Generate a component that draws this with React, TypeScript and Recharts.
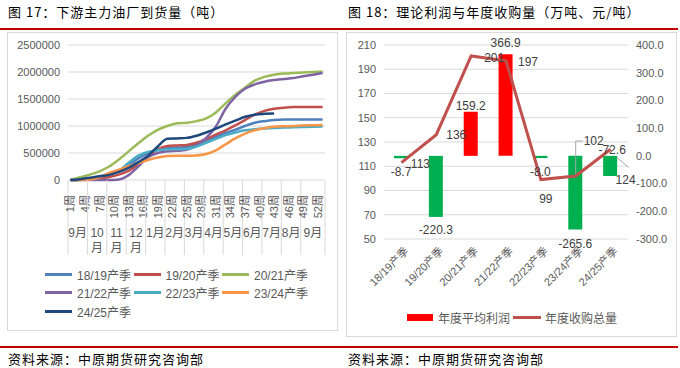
import React from "react";
import {
  LineChart,
  Line,
  XAxis,
  YAxis,
  CartesianGrid,
  Legend,
  ComposedChart,
  Bar,
  Cell,
  LabelList,
} from "recharts";

const NUM_FONT = '"Liberation Sans", "Noto Sans CJK SC", sans-serif';
const CJK_FONT = '"Noto Sans CJK SC", "Liberation Sans", sans-serif';

// ---------- Figure 17: arrivals at main downstream crushers (tons) ----------
const weeks = [1, 3, 5, 7, 9, 11, 13, 15, 17, 19, 21, 23, 25, 27, 29, 31, 33, 35, 37, 39, 41, 43, 45, 47, 49, 51, 53];
const s1819 = [0, 5000, 20000, 50000, 100000, 170000, 280000, 400000, 500000, 560000, 590000, 600000, 610000, 660000, 730000, 800000, 870000, 930000, 1000000, 1060000, 1090000, 1110000, 1120000, 1120000, 1120000, 1120000, 1120000];
const s1920 = [0, 5000, 15000, 30000, 55000, 100000, 170000, 290000, 430000, 570000, 630000, 640000, 650000, 690000, 760000, 840000, 920000, 1010000, 1110000, 1210000, 1280000, 1320000, 1340000, 1350000, 1350000, 1350000, 1350000];
const s2021 = [0, 50000, 100000, 160000, 250000, 380000, 530000, 680000, 820000, 930000, 1000000, 1050000, 1060000, 1090000, 1140000, 1250000, 1420000, 1580000, 1710000, 1840000, 1910000, 1950000, 1970000, 1980000, 1990000, 2000000, 2010000];
const s2122 = [0, 0, 0, 0, 0, 10000, 90000, 250000, 420000, 500000, 530000, 540000, 560000, 640000, 780000, 990000, 1320000, 1540000, 1690000, 1770000, 1820000, 1850000, 1870000, 1890000, 1920000, 1950000, 1980000];
const s2223 = [0, 10000, 30000, 60000, 110000, 170000, 320000, 450000, 520000, 550000, 565000, 570000, 575000, 620000, 690000, 760000, 830000, 880000, 920000, 940000, 955000, 965000, 970000, 975000, 980000, 985000, 990000];
const s2324 = [0, 0, 10000, 50000, 130000, 190000, 255000, 310000, 370000, 415000, 445000, 450000, 450000, 455000, 480000, 550000, 660000, 770000, 860000, 920000, 960000, 985000, 995000, 1000000, 1010000, 1015000, 1020000];
const s2425 = [0, 15000, 40000, 70000, 95000, 150000, 225000, 330000, 450000, 620000, 765000, 770000, 780000, 820000, 880000, 950000, 1030000, 1100000, 1170000, 1210000, 1225000, 1230000];

const seasonNames17 = ["18/19产季", "19/20产季", "20/21产季", "21/22产季", "22/23产季", "23/24产季", "24/25产季"];
const seasonColors17 = ["#4F81BD", "#C0504D", "#9BBB59", "#8064A2", "#4BACC6", "#F79646", "#1F497D"];
const seriesList17 = [s1819, s1920, s2021, s2122, s2223, s2324, s2425];

const weekTicks = [1, 4, 7, 10, 13, 16, 19, 22, 25, 28, 31, 34, 37, 40, 43, 46, 49, 52];
const monthNames = ["9月", "10月", "11月", "12月", "1月", "2月", "3月", "4月", "5月", "6月", "7月", "8月", "9月"];
const monthStartWeeks = [1, 5, 9, 13, 17, 21, 25, 29, 33, 37, 41, 45, 49];
const monthEndWeeks = [4, 8, 12, 16, 20, 24, 28, 32, 36, 40, 44, 48, 53];
const yTicks17 = [0, 500000, 1000000, 1500000, 2000000, 2500000];

const monthCenters = monthStartWeeks.map((s, i) => (s + monthEndWeeks[i]) / 2);
const monthBounds = [...monthStartWeeks.map((s) => s - 0.5), monthEndWeeks[monthEndWeeks.length - 1] + 0.5];
const weekAxisTicks = [...weekTicks, ...monthBounds].sort((a, b) => a - b);
const weekDomain: [number, number] = [0.5, 53.5];

const data17 = weeks.map((w, i) => {
  const row: any = { w };
  seriesList17.forEach((s, k) => {
    row["s" + k] = s[i] === undefined ? null : s[i];
  });
  return row;
});

// ---------- Figure 18: theoretical profit & annual purchases ----------
const seasons18 = ["18/19产季", "19/20产季", "20/21产季", "21/22产季", "22/23产季", "23/24产季", "24/25产季"];
const profit18 = [-8.7, -220.3, 159.2, 366.9, -8.0, -265.6, -72.6];
const volume18 = [113, 136, 201, 197, 99, 102, 124];
const leftTicks18 = [50, 70, 90, 110, 130, 150, 170, 190, 210];
const rightTicks18 = [-300, -200, -100, 0, 100, 200, 300, 400];

const data18 = seasons18.map((s, i) => ({ season: s, profit: profit18[i], volume: volume18[i] }));

// label placement (style only)
const volLabelOffsets = [
  [19, 1],
  [20, 0],
  [23, 2],
  [22, 1],
  [5, 19],
  [18, -35],
  [15, 31],
];
const volLeaders = [null, null, null, null, null, "up", "down"];
const profitLabelGap = [14, 13, 6, 11, 14, 15, 6];

const AXIS_COLOR = "#595959";
const GRID_COLOR = "#D9D9D9";

const WeekTick = (p: any) => {
  const v = p.payload.value;
  if (monthBounds.includes(v)) {
    return <line x1={p.x} x2={p.x} y1={p.y} y2={p.y + 75} stroke={GRID_COLOR} strokeWidth={1} />;
  }
  const y = p.y + 15;
  return (
    <text
      x={p.x}
      y={y}
      transform={`rotate(-90 ${p.x} ${y})`}
      textAnchor="end"
      dominantBaseline="central"
      fontSize={11}
      fill={AXIS_COLOR}
      fontFamily={NUM_FONT}
    >
      {`${v}周`}
    </text>
  );
};

const MonthTick = (p: any) => {
  const idx = monthCenters.indexOf(p.payload.value);
  const name = idx >= 0 ? monthNames[idx] : "";
  const y = p.y + 8;
  if (name.length > 2) {
    return (
      <text x={p.x} y={y} textAnchor="middle" fontSize={12} fill={AXIS_COLOR} fontFamily={NUM_FONT}>
        <tspan x={p.x} dy="0.35em">{name.slice(0, -1)}</tspan>
        <tspan x={p.x} dy="15">{name.slice(-1)}</tspan>
      </text>
    );
  }
  return (
    <text x={p.x} y={y} dy="0.35em" textAnchor="middle" fontSize={12} fill={AXIS_COLOR} fontFamily={NUM_FONT}>
      {name}
    </text>
  );
};

const Legend17 = (props: any) => {
  const payload = props.payload || [];
  return (
    <div style={{ display: "grid", gridTemplateColumns: "88.5px 88.5px 88.5px" }}>
      {payload.map((e: any) => (
        <div key={e.value} style={{ display: "flex", alignItems: "center", height: 18.5 }}>
          <span style={{ display: "inline-block", width: 27, height: 3, background: e.color, marginRight: 5 }} />
          <span style={{ fontSize: 12, color: AXIS_COLOR, fontFamily: NUM_FONT, whiteSpace: "nowrap" }}>{e.value}</span>
        </div>
      ))}
    </div>
  );
};

const SeasonTick = (p: any) => {
  const x = p.x + 5;
  const y = p.y + 2;
  return (
    <text
      x={x}
      y={y}
      transform={`rotate(-45 ${x} ${y})`}
      textAnchor="end"
      dominantBaseline="central"
      fontSize={11}
      fill={AXIS_COLOR}
      fontFamily={NUM_FONT}
    >
      {p.payload.value}
    </text>
  );
};

const ProfitLabel = (p: any) => {
  const { x, y, width, height, value, index } = p;
  const top = Math.min(y, y + height);
  const bottom = Math.max(y, y + height);
  let cx = x + width / 2;
  const gap = profitLabelGap[index] ?? 8;
  let ty: number;
  if (index === profit18.length - 1) {
    ty = top - gap;
    cx = cx + 2;
  } else if (value >= 0) ty = top - gap;
  else ty = bottom + gap;
  return (
    <text x={cx} y={ty} textAnchor="middle" dominantBaseline="central" fontSize={12} fill="#404040" fontFamily={NUM_FONT}>
      {Number(value).toFixed(1)}
    </text>
  );
};

const VolumeLabel = (p: any) => {
  const { x, y, value, index } = p;
  const [dx, dy] = volLabelOffsets[index] || [0, 0];
  const leader = volLeaders[index];
  return (
    <g>
      {leader === "up" && (
        <path d={`M${x},${y - 2} V${y + dy} H${x + 7}`} stroke="#A6A6A6" strokeWidth={1} fill="none" />
      )}
      {leader === "down" && (
        <path d={`M${x + 6},${y + 8} L${x + 18},${y + 18}`} stroke="#A6A6A6" strokeWidth={1} fill="none" />
      )}
      <text x={x + dx} y={y + dy} textAnchor="middle" dominantBaseline="central" fontSize={12} fill="#404040" fontFamily={NUM_FONT}>
        {value}
      </text>
    </g>
  );
};

const Legend18 = (props: any) => {
  const payload = props.payload || [];
  return (
    <div style={{ display: "flex", alignItems: "center", height: 16 }}>
      {payload.map((e: any) => (
        <div key={e.value} style={{ display: "flex", alignItems: "center", marginRight: 3 }}>
          {e.type === "rect" ? (
            <span style={{ display: "inline-block", width: 26, height: 7, background: "#FF0000", marginRight: 5 }} />
          ) : (
            <span style={{ display: "inline-block", width: 28, height: 3, background: e.color, marginRight: 4 }} />
          )}
          <span style={{ fontSize: 12, color: AXIS_COLOR, fontFamily: CJK_FONT, whiteSpace: "nowrap" }}>{e.value}</span>
        </div>
      ))}
    </div>
  );
};

const titleStyle: React.CSSProperties = {
  position: "absolute",
  fontSize: 13,
  lineHeight: "16px",
  color: "#000",
  fontFamily: CJK_FONT,
  letterSpacing: 1,
  whiteSpace: "nowrap",
};

export default function App() {
  return (
    <div style={{ position: "absolute", left: 0, top: 0, width: 680, height: 368, background: "#fff", overflow: "hidden" }}>
      <div style={{ ...titleStyle, left: 8, top: 4 }}>图 17：下游主力油厂到货量（吨）</div>
      <div style={{ ...titleStyle, left: 348, top: 4 }}>图 18：理论利润与年度收购量（万吨、元/吨）</div>
      <div style={{ position: "absolute", left: 0, top: 28, width: 678, height: 2, background: "#C00000" }} />

      <div style={{ position: "absolute", left: 7, top: 32, width: 331, height: 299, border: `1px solid ${GRID_COLOR}`, boxSizing: "border-box" }} />
      <div style={{ position: "absolute", left: 346, top: 32, width: 331, height: 305, border: `1px solid ${GRID_COLOR}`, boxSizing: "border-box" }} />

      <div style={{ position: "absolute", left: 8, top: 32 }}>
        <LineChart width={330} height={298} data={data17} margin={{ top: 13, right: 13, left: 0, bottom: 60 }}>
          <CartesianGrid xAxisId="b_week" horizontal vertical={false} stroke={GRID_COLOR} />
          <XAxis
            xAxisId="b_week"
            dataKey="w"
            type="number"
            domain={weekDomain}
            ticks={weekAxisTicks}
            interval={0}
            height={45}
            axisLine={false}
            tickLine={false}
            tickSize={0}
            tickMargin={0}
            tick={<WeekTick />}
          />
          <XAxis
            xAxisId="c_month"
            dataKey="w"
            type="number"
            domain={weekDomain}
            ticks={monthCenters}
            interval={0}
            height={45}
            axisLine={false}
            tickLine={false}
            tickSize={0}
            tickMargin={0}
            tick={<MonthTick />}
          />
          <YAxis
            domain={[0, 2500000]}
            ticks={yTicks17}
            interval={0}
            width={60}
            axisLine={false}
            tickLine={false}
            tick={{ fontSize: 11, fill: AXIS_COLOR, fontFamily: NUM_FONT }}
          />
          {seasonNames17.map((n, k) => (
            <Line
              key={n}
              xAxisId="b_week"
              type="monotone"
              dataKey={"s" + k}
              name={n}
              stroke={seasonColors17[k]}
              strokeWidth={2.5}
              dot={false}
              connectNulls={false}
              isAnimationActive={false}
            />
          ))}
          <Legend
            layout="horizontal"
            verticalAlign="middle"
            align="center"
            content={<Legend17 />}
            wrapperStyle={{ left: 37, top: 233, width: 270 }}
          />
        </LineChart>
      </div>

      <div style={{ position: "absolute", left: 346, top: 33 }}>
        <ComposedChart width={330} height={303} data={data18} margin={{ top: 12, right: 0, left: 0, bottom: 37 }}>
          <CartesianGrid yAxisId="left" horizontal vertical={false} stroke={GRID_COLOR} />
          <XAxis
            dataKey="season"
            height={60}
            interval={0}
            axisLine={false}
            tickLine={false}
            tick={<SeasonTick />}
          />
          <YAxis
            yAxisId="left"
            orientation="left"
            domain={[50, 210]}
            ticks={leftTicks18}
            interval={0}
            width={38}
            axisLine={false}
            tickLine={false}
            tick={{ fontSize: 11, fill: AXIS_COLOR, fontFamily: NUM_FONT }}
          />
          <YAxis
            yAxisId="right"
            orientation="right"
            domain={[-300, 400]}
            ticks={rightTicks18}
            interval={0}
            width={48}
            axisLine={false}
            tickLine={false}
            tickFormatter={(v: number) => v.toFixed(1)}
            tick={{ fontSize: 11, fill: AXIS_COLOR, fontFamily: NUM_FONT }}
          />
          <Bar yAxisId="right" dataKey="profit" name="年度平均利润" fill="#FF0000" barSize={14} isAnimationActive={false}>
            {data18.map((d, i) => (
              <Cell key={i} fill={d.profit >= 0 ? "#FF0000" : "#00B050"} />
            ))}
            <LabelList dataKey="profit" content={<ProfitLabel />} />
          </Bar>
          <Line
            yAxisId="left"
            type="linear"
            dataKey="volume"
            name="年度收购总量"
            stroke="#C0504D"
            strokeWidth={3}
            dot={false}
            isAnimationActive={false}
          >
            <LabelList dataKey="volume" content={<VolumeLabel />} />
          </Line>
          <Legend
            layout="horizontal"
            verticalAlign="middle"
            align="center"
            content={<Legend18 />}
            wrapperStyle={{ left: 61, top: 276, width: 250 }}
          />
        </ComposedChart>
      </div>

      <div style={{ position: "absolute", left: 0, top: 346, width: 678, height: 2, background: "#C00000" }} />
      <div style={{ ...titleStyle, left: 8, top: 351 }}>资料来源：中原期货研究咨询部</div>
      <div style={{ ...titleStyle, left: 348, top: 351 }}>资料来源：中原期货研究咨询部</div>
    </div>
  );
}
